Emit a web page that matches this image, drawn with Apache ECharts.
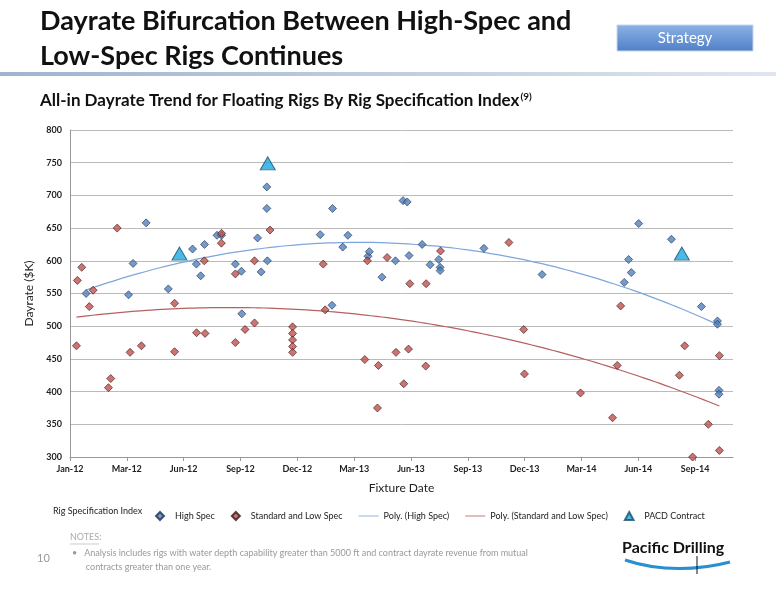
<!DOCTYPE html>
<html>
<head>
<meta charset="utf-8">
<script src="https://cdn.jsdelivr.net/npm/echarts@6/dist/echarts.min.js"></script>
<style>
  html, body { margin: 0; padding: 0; background: #fff; }
  #chart { width: 776px; height: 600px; }
</style>
</head>
<body>
<div id="chart"></div>
<script>
// x = months since Jan-12, y = dayrate ($K)
var xTickLabels = ['Jan-12', 'Mar-12', 'Jun-12', 'Sep-12', 'Dec-12', 'Mar-13', 'Jun-13', 'Sep-13', 'Dec-13', 'Mar-14', 'Jun-14', 'Sep-14'];

var highSpec = [
  [0.85, 550], [3.33, 596], [4.02, 658], [3.09, 548], [5.19, 557], [6.47, 618], [6.67, 595], [6.9, 577],
  [7.1, 625], [7.76, 639], [8.0, 639], [8.73, 595], [9.05, 584], [9.07, 519], [9.9, 635], [10.09, 583],
  [10.39, 713], [10.39, 680], [10.42, 600], [13.21, 640], [13.86, 680], [13.83, 532], [14.4, 621], [14.67, 639],
  [15.73, 607], [15.8, 614], [16.47, 575], [17.18, 600], [17.58, 692], [17.8, 690], [17.9, 608], [18.59, 625],
  [19.01, 594], [19.47, 602], [19.54, 590], [19.54, 585], [21.85, 619], [24.92, 579], [29.26, 567], [29.49, 602],
  [29.63, 582], [30.02, 657], [31.75, 633], [33.33, 530], [34.18, 508], [34.18, 503], [34.26, 402], [34.26, 396]
];

var lowSpec = [
  [0.34, 470], [0.39, 570], [0.62, 590], [1.02, 530], [1.22, 555], [2.03, 406], [2.15, 420], [2.49, 650],
  [3.17, 460], [3.77, 470], [5.52, 535], [5.52, 461], [6.68, 490], [7.13, 489], [7.09, 600], [8.0, 642],
  [7.99, 627], [8.73, 580], [8.73, 475], [9.24, 495], [9.74, 600], [9.74, 505], [10.56, 647], [11.75, 499],
  [11.75, 489], [11.75, 479], [11.75, 469], [11.75, 460], [13.37, 595], [13.47, 525], [15.56, 449], [15.7, 600],
  [16.23, 375], [16.28, 440], [16.74, 605], [17.21, 460], [17.62, 412], [17.87, 465], [17.94, 565], [18.8, 565],
  [18.78, 439], [19.56, 615], [23.17, 628], [23.95, 495], [23.99, 427], [26.95, 398], [28.64, 360], [28.89, 440],
  [29.07, 531], [32.17, 425], [32.45, 470], [32.87, 300], [33.7, 350], [34.28, 455], [34.28, 310]
];

var pacd = [[5.78, 611], [10.44, 749], [32.3, 611]];

// 2nd order polynomial least-squares trend, like Excel's "Poly." trendline
function polyTrend(pts) {
  var s = [0, 0, 0, 0, 0], t = [0, 0, 0];
  pts.forEach(function (p) {
    var x = p[0], y = p[1];
    for (var k = 0; k < 5; k++) s[k] += Math.pow(x, k);
    for (var k2 = 0; k2 < 3; k2++) t[k2] += Math.pow(x, k2) * y;
  });
  var m = [[s[0], s[1], s[2], t[0]], [s[1], s[2], s[3], t[1]], [s[2], s[3], s[4], t[2]]];
  for (var i = 0; i < 3; i++) {
    for (var j = i + 1; j < 3; j++) {
      var f = m[j][i] / m[i][i];
      for (var c = i; c < 4; c++) m[j][c] -= f * m[i][c];
    }
  }
  var a = [0, 0, 0];
  for (var r = 2; r >= 0; r--) {
    var v = m[r][3];
    for (var c2 = r + 1; c2 < 3; c2++) v -= m[r][c2] * a[c2];
    a[r] = v / m[r][r];
  }
  var xs = pts.map(function (p) { return p[0]; });
  var x0 = Math.min.apply(null, xs), x1 = Math.max.apply(null, xs);
  var out = [];
  for (var n = 0; n <= 60; n++) {
    var x = x0 + (x1 - x0) * n / 60;
    out.push([x, a[0] + a[1] * x + a[2] * x * x]);
  }
  return out;
}

var chart = echarts.init(document.getElementById('chart'));
var font = 'Lato, "Open Sans", sans-serif';
var diamondIcon = 'path://M5,0L10,5L5,10L0,5Z';
var lineIcon = 'path://M0,0L24,0L24,1L0,1Z';

var option = {
  backgroundColor: '#fff',
  textStyle: { fontFamily: font },
  animation: false,
  grid: { left: 70, right: 43, top: 130, bottom: 143 },
  xAxis: {
    type: 'value', min: 0, max: 35, interval: 3,
    name: 'Fixture Date', nameLocation: 'middle', nameGap: 25,
    nameTextStyle: { fontSize: 12, color: '#222' },
    axisLine: { show: true, lineStyle: { color: '#999' } },
    axisTick: { show: true, length: 4, lineStyle: { color: '#999' } },
    splitLine: { show: false },
    axisLabel: {
      fontSize: 9, fontWeight: 'bold', color: '#222', showMaxLabel: false,
      formatter: function (v) { return xTickLabels[Math.round(v / 3)] || ''; }
    }
  },
  yAxis: {
    type: 'value', min: 300, max: 800, interval: 50,
    name: 'Dayrate ($K)', nameLocation: 'middle', nameGap: 32,
    nameTextStyle: { fontSize: 12, color: '#222' },
    axisLine: { show: true, lineStyle: { color: '#999' } },
    axisTick: { show: false },
    splitLine: { lineStyle: { color: '#bbb' } },
    axisLabel: { fontSize: 9, fontWeight: 'bold', color: '#222' }
  },
  legend: {
    left: 150, top: 506, itemGap: 16, itemWidth: 20, itemHeight: 8, symbolKeepAspect: true,
    textStyle: { fontSize: 9, color: '#222' },
    data: [
      { name: 'High Spec', icon: diamondIcon, itemStyle: { color: '#4F81BD', borderColor: '#1f3050' } },
      { name: 'Standard and Low Spec', icon: diamondIcon, itemStyle: { color: '#C0504D', borderColor: '#3a1515' } },
      { name: 'Poly. (High Spec)', icon: lineIcon, itemStyle: { color: '#7EA6DC' } },
      { name: 'Poly. (Standard and Low Spec)', icon: lineIcon, itemStyle: { color: '#B5615E' } },
      { name: 'PACD Contract', icon: 'path://M6,0L12,11L0,11Z', itemStyle: { color: '#1EA8E0', borderColor: '#13506e' } }
    ]
  },
  series: [
    {
      name: 'Poly. (High Spec)', type: 'line', data: polyTrend(highSpec), showSymbol: false, smooth: true,
      lineStyle: { color: '#7EA6DC', width: 1.2 }, itemStyle: { color: '#7EA6DC' }, z: 1
    },
    {
      name: 'Poly. (Standard and Low Spec)', type: 'line', data: polyTrend(lowSpec), showSymbol: false, smooth: true,
      lineStyle: { color: '#B5615E', width: 1.2 }, itemStyle: { color: '#B5615E' }, z: 1
    },
    {
      name: 'High Spec', type: 'scatter', data: highSpec, symbol: 'diamond', symbolSize: 8,
      itemStyle: { color: '#4F81BD', borderColor: '#1f3050', borderWidth: 0.8 }, z: 3
    },
    {
      name: 'Standard and Low Spec', type: 'scatter', data: lowSpec, symbol: 'diamond', symbolSize: 8,
      itemStyle: { color: '#C0504D', borderColor: '#3a1515', borderWidth: 0.8 }, z: 3
    },
    {
      name: 'PACD Contract', type: 'scatter', data: pacd, symbol: 'triangle', symbolSize: [15, 13],
      itemStyle: { color: '#1EA8E0', borderColor: '#13506e', borderWidth: 1 }, z: 4
    }
  ],
  graphic: [
    { type: 'text', left: 40, top: 4, style: { text: 'Dayrate Bifurcation Between High-Spec and\nLow-Spec Rigs Continues', font: 'bold 27px ' + font, fill: '#111', lineHeight: 35 } },
    { type: 'rect', shape: { x: 617, y: 25, width: 136, height: 26 }, style: { fill: new echarts.graphic.LinearGradient(0, 0, 0, 1, [{ offset: 0, color: '#8db3e6' }, { offset: 1, color: '#4f7fc6' }]), stroke: '#c8d6ec' } },
    { type: 'text', x: 685, y: 38, style: { text: 'Strategy', font: '15px ' + font, fill: '#fff', align: 'center', verticalAlign: 'middle' } },
    { type: 'rect', shape: { x: 0, y: 72, width: 776, height: 4 }, style: { fill: new echarts.graphic.LinearGradient(0, 0, 1, 0, [{ offset: 0, color: '#9fb4cf' }, { offset: 1, color: '#dfe6ef' }]) } },
    {
      type: 'text', left: 40, top: 92,
      style: {
        text: '{t|All-in Dayrate Trend for Floating Rigs By Rig Specification Index}{s|(9)}',
        rich: {
          t: { font: 'bold 17px ' + font, fill: '#111' },
          s: { font: 'bold 10px ' + font, fill: '#111', verticalAlign: 'top', padding: [0, 0, 8, 1] }
        }
      }
    },
    { type: 'text', left: 53, top: 507, style: { text: 'Rig Specification Index', font: '9px ' + font, fill: '#222' } },
    { type: 'text', left: 70, top: 533, style: { text: 'NOTES:', font: '9px ' + font, fill: '#aaa' } },
    { type: 'line', shape: { x1: 70, y1: 544, x2: 99, y2: 544 }, style: { stroke: '#aaa', lineWidth: 0.6 } },
    { type: 'text', left: 72, top: 546, style: { text: '\u2022   Analysis includes rigs with water depth capability greater than 5000 ft and contract dayrate revenue from mutual\n      contracts greater than one year.', font: '9px ' + font, fill: '#999', lineHeight: 14 } },
    { type: 'text', left: 37, top: 553, style: { text: '10', font: '11px ' + font, fill: '#999' } },
    { type: 'text', left: 622, top: 540, style: { text: 'Pacific Drilling', font: 'bold 16px ' + font, fill: '#111' } },
    { type: 'bezierCurve', shape: { x1: 625, y1: 560, cpx1: 660, cpy1: 572, cpx2: 700, cpy2: 570, x2: 730, y2: 562 }, style: { stroke: '#2a8fd0', lineWidth: 3, fill: null } },
    { type: 'line', shape: { x1: 697, y1: 556, x2: 697, y2: 574 }, style: { stroke: '#111', lineWidth: 1 } }
  ]
};

chart.setOption(option);
</script>
</body>
</html>
